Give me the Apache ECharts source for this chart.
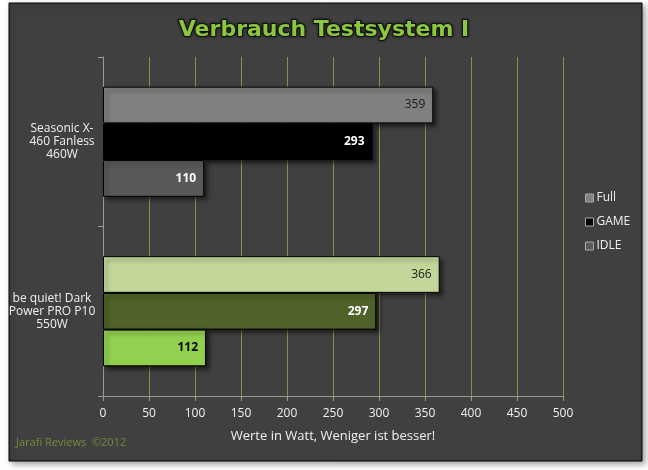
<!DOCTYPE html>
<html>
<head>
<meta charset="utf-8">
<script src="https://cdn.jsdelivr.net/npm/echarts@6/dist/echarts.min.js"></script>
<style>html,body{margin:0;padding:0;background:#fff}#c{width:648px;height:470px}</style>
</head>
<body>
<div id="c"></div>
<script>
var categories = ['Seasonic X-\n460 Fanless\n460W', 'be quiet! Dark\nPower PRO P10\n550W'];
var seriesNames = ['Full', 'GAME', 'IDLE'];
var fullValues = [359, 366];
var gameValues = [293, 297];
var idleValues = [110, 112];
var xTicks = [0, 50, 100, 150, 200, 250, 300, 350, 400, 450, 500];

var barColors = {
  Full: ['#808080', '#c4d79b'],
  GAME: ['#000000', '#4f6228'],
  IDLE: ['#595959', '#92d050']
};
var labelStyles = {
  Full: [{color: '#1a1a1a', fontWeight: 'normal'}, {color: '#1a1a1a', fontWeight: 'normal'}],
  GAME: [{color: '#ffffff', fontWeight: 'bold'}, {color: '#ffffff', fontWeight: 'bold'}],
  IDLE: [{color: '#ffffff', fontWeight: 'bold'}, {color: '#000000', fontWeight: 'bold'}]
};
var values = {Full: fullValues, GAME: gameValues, IDLE: idleValues};

var chart = echarts.init(document.getElementById('c'), null, {renderer: 'canvas'});
var FONT = '"Open Sans", "Noto Sans", sans-serif';

var series = seriesNames.map(function (name) {
  return {
    name: name,
    type: 'bar',
    barGap: '0%',
    barCategoryGap: '35%',
    itemStyle: {
      color: barColors[name][0],
      borderColor: '#000',
      borderWidth: 1,
      shadowColor: 'rgba(0,0,0,0.55)',
      shadowBlur: 4,
      shadowOffsetX: 3,
      shadowOffsetY: 3
    },
    label: {
      show: true,
      position: 'insideRight',
      distance: 8,
      fontFamily: FONT,
      fontSize: 12
    },
    data: values[name].map(function (v, i) {
      return {
        value: v,
        itemStyle: {color: barColors[name][i]},
        label: {color: labelStyles[name][i].color, fontWeight: labelStyles[name][i].fontWeight}
      };
    })
  };
});

var labelWidths = [64, 84];

chart.setOption({
  backgroundColor: '#ffffff',
  animation: false,
  graphic: [
    {
      type: 'rect', z: -10,
      shape: {x: 9, y: 3, width: 633, height: 458},
      style: {fill: '#404040', stroke: '#000', lineWidth: 1,
        shadowColor: 'rgba(0,0,0,0.35)', shadowBlur: 6, shadowOffsetX: 3, shadowOffsetY: 3}
    },
    {
      type: 'text', left: 16, top: 437,
      style: {text: 'Jarafi Reviews  \u00a92012', fill: '#6f8f3a', font: '11px ' + FONT}
    }
  ],
  title: {
    text: 'Verbrauch Testsystem I',
    left: 'center',
    top: 14,
    textStyle: {
      fontFamily: '"DejaVu Sans", Verdana, sans-serif',
      fontSize: 22,
      fontWeight: 'bold',
      color: '#8cc63f',
      textBorderColor: '#151515',
      textBorderWidth: 2,
      textShadowColor: 'rgba(0,0,0,0.6)',
      textShadowBlur: 3
    }
  },
  legend: {
    orient: 'vertical',
    left: 580,
    top: 187,
    itemWidth: 8,
    itemHeight: 8,
    itemGap: 12,
    icon: 'rect',
    data: seriesNames.map(function (n) {
      return {name: n, itemStyle: {color: barColors[n][0], borderColor: '#aaa', borderWidth: 1}};
    }),
    textStyle: {color: '#f0f0f0', fontFamily: FONT, fontSize: 12, padding: [0, 0, 0, -2]}
  },
  grid: {left: 103, right: 85, top: 57, bottom: 74, containLabel: false},
  xAxis: {
    type: 'value',
    min: xTicks[0],
    max: xTicks[xTicks.length - 1],
    interval: xTicks[1] - xTicks[0],
    name: 'Werte in Watt, Weniger ist besser!',
    nameLocation: 'middle',
    nameGap: 34,
    nameTextStyle: {color: '#f0f0f0', fontFamily: FONT, fontSize: 13},
    axisLine: {show: true, lineStyle: {color: '#9a9a9a', width: 1}},
    axisTick: {show: true, length: 5, lineStyle: {color: '#9a9a9a'}},
    axisLabel: {color: '#f0f0f0', fontFamily: FONT, fontSize: 12, margin: 12},
    splitLine: {show: true, lineStyle: {color: '#7a9a45', width: 1}}
  },
  yAxis: {
    type: 'category',
    inverse: true,
    data: categories,
    axisLine: {show: true, lineStyle: {color: '#9a9a9a', width: 1}},
    axisTick: {show: true, length: 5, lineStyle: {color: '#9a9a9a'}},
    axisLabel: {
      color: '#f0f0f0', fontFamily: FONT, fontSize: 12, lineHeight: 13, align: 'right', margin: 9,
      formatter: function (val, idx) {
        var key = idx === 0 ? 'a' : 'b';
        return val.split('\n').map(function (l) { return '{' + key + '|' + l + '}'; }).join('\n');
      },
      rich: {
        a: {width: labelWidths[0], align: 'center', color: '#f0f0f0', fontFamily: FONT, fontSize: 12, lineHeight: 13},
        b: {width: labelWidths[1], align: 'center', color: '#f0f0f0', fontFamily: FONT, fontSize: 12, lineHeight: 13}
      }
    },
    splitLine: {show: false}
  },
  series: series
});
</script>
</body>
</html>
